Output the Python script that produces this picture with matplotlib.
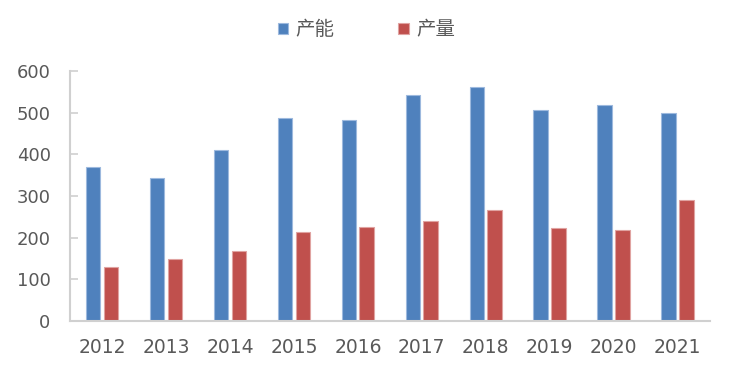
import matplotlib
matplotlib.use("Agg")
import matplotlib.pyplot as plt
import numpy as np

plt.rcParams['font.family'] = ['DejaVu Sans', 'Noto Sans CJK SC']

years = ['2012', '2013', '2014', '2015', '2016', '2017', '2018', '2019', '2020', '2021']
capacity = [370, 343, 410, 488, 483, 543, 562, 505, 517, 498]
output = [130, 149, 168, 214, 226, 240, 266, 223, 219, 291]
series_names = ['产能', '产量']

fig = plt.figure(figsize=(7.37, 3.69), dpi=100)
ax = fig.add_axes([0.095, 0.130, 0.868, 0.678])

x = np.arange(len(years))
w = 0.23
off = 0.14
ax.bar(x - off, capacity, width=w, color='#4F81BD', edgecolor='#9DB9DE', linewidth=0.8, label=series_names[0])
ax.bar(x + off, output, width=w, color='#C0504D', edgecolor='#E0A3A1', linewidth=0.8, label=series_names[1])

ax.set_xlim(-0.5, len(years) - 0.5)
ax.set_ylim(0, 600)
ax.set_yticks(range(0, 601, 100))
ax.set_xticks(x)
ax.set_xticklabels(years)

for s in ['top', 'right']:
    ax.spines[s].set_visible(False)
for s in ['left', 'bottom']:
    ax.spines[s].set_color('#D0D0D0')
    ax.spines[s].set_linewidth(1.5)

ax.tick_params(axis='y', direction='in', length=6, width=1.2, color='#D0D0D0',
               labelsize=13, labelcolor='#595959', pad=14)
ax.tick_params(axis='x', length=0, labelsize=13.5, labelcolor='#595959', pad=12)

leg = fig.legend(loc='upper center', bbox_to_anchor=(0.497, 0.995), ncol=2, frameon=False,
                 handlelength=0.55, handleheight=0.55, handletextpad=0.35, columnspacing=3.3,
                 prop={'family': ['Noto Sans CJK SC', 'DejaVu Sans'], 'size': 14})
for t in leg.get_texts():
    t.set_color('#595959')

fig.savefig('out.png', dpi=100)
